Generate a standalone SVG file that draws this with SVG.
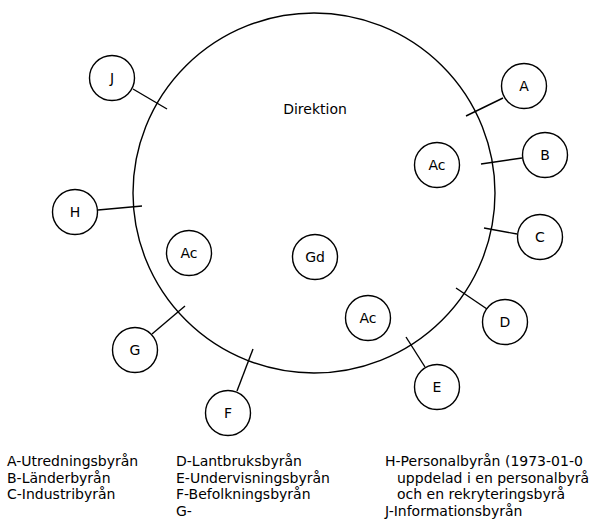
<svg xmlns="http://www.w3.org/2000/svg" width="608" height="525" viewBox="0 0 608 525">
<style>
.n{fill:none;stroke:#000;stroke-width:1.4}
.c{stroke:#000;stroke-width:1.4;fill:none}
.t{font-family:"DejaVu Sans","Liberation Sans",sans-serif;font-size:14px;fill:#000;text-anchor:middle}
.l{font-family:"DejaVu Sans","Liberation Sans",sans-serif;font-size:14px;fill:#000}
</style>
<rect width="608" height="525" fill="#fff"/>
<g id="direktion">
<ellipse class="n" cx="314" cy="193" rx="181" ry="180"/>
<text class="t" x="315" y="114">Direktion</text>
</g>
<g id="connectors">
<line class="c" x1="133" y1="89" x2="167" y2="109"/>
<line class="c" x1="98" y1="210" x2="142" y2="206"/>
<line class="c" x1="503" y1="98" x2="466" y2="116"/>
<line class="c" x1="522" y1="158" x2="481" y2="164"/>
<line class="c" x1="517" y1="234" x2="484" y2="228"/>
<line class="c" x1="487" y1="309" x2="456" y2="288"/>
<line class="c" x1="425" y1="367" x2="406" y2="337"/>
<line class="c" x1="237" y1="391" x2="253" y2="349"/>
<line class="c" x1="152" y1="334" x2="185" y2="306"/>
</g>
<g id="J"><circle class="n" cx="112" cy="78" r="22.5"/><text class="t" x="112" y="83">J</text></g>
<g id="H"><circle class="n" cx="75" cy="212" r="22.5"/><text class="t" x="75" y="217">H</text></g>
<g id="A"><circle class="n" cx="524" cy="86" r="22.5"/><text class="t" x="524" y="91">A</text></g>
<g id="B"><circle class="n" cx="545" cy="155" r="22.5"/><text class="t" x="545" y="160">B</text></g>
<g id="C"><circle class="n" cx="540" cy="237" r="22.5"/><text class="t" x="540" y="242">C</text></g>
<g id="D"><circle class="n" cx="505" cy="322" r="22.5"/><text class="t" x="505" y="327">D</text></g>
<g id="E"><circle class="n" cx="437" cy="387" r="22.5"/><text class="t" x="437" y="392">E</text></g>
<g id="F"><circle class="n" cx="228" cy="413" r="22.5"/><text class="t" x="228" y="418">F</text></g>
<g id="G"><circle class="n" cx="135" cy="350" r="22.5"/><text class="t" x="135" y="355">G</text></g>
<g id="Ac1"><circle class="n" cx="437" cy="165" r="22.5"/><text class="t" x="437" y="170">Ac</text></g>
<g id="Ac2"><circle class="n" cx="189" cy="253" r="22.5"/><text class="t" x="189" y="258">Ac</text></g>
<g id="Gd"><circle class="n" cx="315" cy="257" r="22.5"/><text class="t" x="315" y="262">Gd</text></g>
<g id="Ac3"><circle class="n" cx="368" cy="318" r="22.5"/><text class="t" x="368" y="323">Ac</text></g>
<g id="legend">
<text class="l" x="7" y="466">A-Utredningsbyrån</text>
<text class="l" x="7" y="482.5">B-Länderbyrån</text>
<text class="l" x="7" y="499">C-Industribyrån</text>
<text class="l" x="176" y="466">D-Lantbruksbyrån</text>
<text class="l" x="176" y="482.5">E-Undervisningsbyrån</text>
<text class="l" x="176" y="499">F-Befolkningsbyrån</text>
<text class="l" x="176" y="515.5">G-</text>
<text class="l" x="385" y="466">H-Personalbyrån (1973-01-0</text>
<text class="l" x="397" y="482.5">uppdelad i en personalbyrå</text>
<text class="l" x="397" y="499">och en rekryteringsbyrå</text>
<text class="l" x="385" y="515.5">J-Informationsbyrån</text>
</g>
</svg>
